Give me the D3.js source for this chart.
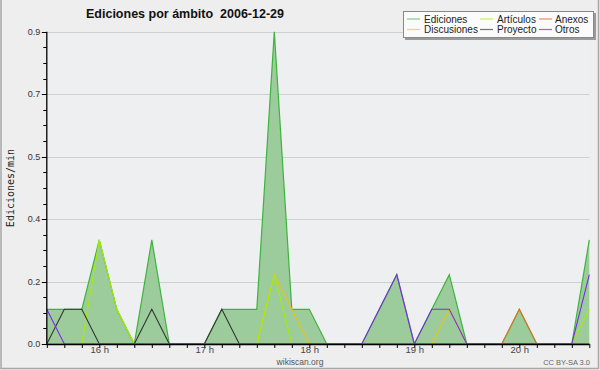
<!DOCTYPE html>
<html><head><meta charset="utf-8">
<script src="https://cdn.jsdelivr.net/npm/d3@7"></script>
<style>
html,body{margin:0;padding:0;background:#eeeeee;}
svg{display:block;}
</style></head>
<body>
<svg id="c" width="600" height="370"></svg>
<script>
const times = ["15:30","15:40","15:50","16:00","16:10","16:20","16:30","16:40","16:50","17:00","17:10","17:20","17:30","17:40","17:50","18:00","18:10","18:20","18:30","18:40","18:50","19:00","19:10","19:20","19:30","19:40","19:50","20:00","20:10","20:20","20:30","20:40"];
const ediciones   = [0.1,0.1,0.1,0.3,0.1,0,0.3,0,0,0,0.1,0.1,0.1,0.9,0.1,0.1,0,0,0,0.1,0.2,0,0.1,0.2,0,0,0,0.1,0,0,0,0.3];
const discusiones = [0,0,0,0,0,0,0,0,0,0,0,0,0,0.2,0.1,0,0,0,0,0,0,0,0,0.1,0,0,0,0,0,0,0,0];
const articulos   = [0,0,0,0.3,0.1,0,0,0,0,0,0,0,0,0.2,0,0,0,0,0,0,0,0,0,0,0,0,0,0,0,0,0,0.1];
const proyecto    = [0,0.1,0.1,0,0,0,0.1,0,0,0,0.1,0,0,0,0,0,0,0,0,0,0,0,0,0,0,0,0,0,0,0,0,0];
const anexos      = [0,0,0,0,0,0,0,0,0,0,0,0,0,0,0,0,0,0,0,0,0,0,0,0,0,0,0,0.1,0,0,0,0];
const otros       = [0.1,0,0,0,0,0,0,0,0,0,0,0,0,0,0,0,0,0,0,0.1,0.2,0,0.1,0.1,0,0,0,0,0,0,0,0.2];
const yMajorTicks = [0,0.18,0.36,0.54,0.72,0.9];
const yTickLabels = ["0.0","0.2","0.4","0.5","0.7","0.9"];
const title = "Ediciones por ámbito\u00a0\u00a02006-12-29";
const yTitle = "Ediciones/min";
const legendNames = ["Ediciones","Discusiones","Artículos","Proyecto","Anexos","Otros"];

const colors = {Ediciones:"#3db43d",Discusiones:"#f2c400",Artículos:"#a8ec00",Proyecto:"#303830",Anexos:"#e8701e",Otros:"#7a2ce8"};
const legendColors = {Ediciones:"#7fd07f",Discusiones:"#f8d850",Artículos:"#c8f060",Proyecto:"#707070",Anexos:"#f09060",Otros:"#9a60f0"};

const svg = d3.select("#c");
const parse = d3.timeParse("%H:%M");
const tdates = times.map(parse);
const L=46.8, R=589.3, T=31.8, B=344;
const x = d3.scaleTime().domain([tdates[0], tdates[tdates.length-1]]).range([L,R]);
const y = d3.scaleLinear().domain([0,0.9]).range([B,T]);

// frame
svg.append("rect").attr("x",0).attr("y",0).attr("width",600).attr("height",370).attr("fill","#eeeeee");
svg.append("path").attr("d","M1,0V368.5H598.5V0").attr("fill","none").attr("stroke","#a8a8a8").attr("stroke-width",1.5);

// plot background
svg.append("rect").attr("x",L).attr("y",T).attr("width",R-L).attr("height",B-T).attr("fill","#eeeff1");

// grid
svg.append("g").selectAll("line").data(yMajorTicks.slice(1)).join("line")
  .attr("x1",L).attr("x2",R).attr("y1",d=>Math.round(y(d))+0.5).attr("y2",d=>Math.round(y(d))+0.5)
  .attr("stroke","#cfcfd2").attr("stroke-width",1);

// area
const ed = tdates.map((t,i)=>({t,v:ediciones[i]}));
svg.append("path").datum(ed)
  .attr("d", d3.area().x(d=>x(d.t)).y0(B).y1(d=>y(d.v)))
  .attr("fill","#9ccb9c");
svg.append("path").datum(ed)
  .attr("d", d3.line().x(d=>x(d.t)).y(d=>y(d.v)))
  .attr("fill","none").attr("stroke",colors.Ediciones).attr("stroke-width",1.2);

const series = [["Discusiones",discusiones],["Artículos",articulos],["Proyecto",proyecto],["Anexos",anexos],["Otros",otros]];
series.forEach(([name,vals])=>{
  svg.append("path").datum(tdates.map((t,i)=>({t,v:vals[i]})))
    .attr("d", d3.line().x(d=>x(d.t)).y(d=>y(d.v)))
    .attr("fill","none").attr("stroke",colors[name]).attr("stroke-width",1.1);
});

// y axis
const yMinor = d3.range(0,0.9001,0.045);
const ya = svg.append("g");
ya.selectAll("line.mn").data(yMinor).join("line").attr("class","mn")
  .attr("x1",L-3.5).attr("x2",L).attr("y1",d=>Math.round(y(d))+0.5).attr("y2",d=>Math.round(y(d))+0.5)
  .attr("stroke","#000");
ya.selectAll("line.mj").data(yMajorTicks).join("line").attr("class","mj")
  .attr("x1",L-5).attr("x2",L).attr("y1",d=>Math.round(y(d))+0.5).attr("y2",d=>Math.round(y(d))+0.5)
  .attr("stroke","#000");
ya.selectAll("text").data(yMajorTicks).join("text")
  .attr("x",L-6.5).attr("y",d=>y(d)+3)
  .attr("text-anchor","end").attr("font-family","Liberation Sans, Arial, sans-serif").attr("font-size","9px").attr("fill","#333")
  .text((d,i)=>yTickLabels[i]);
ya.append("line").attr("x1",L).attr("x2",L).attr("y1",T).attr("y2",B).attr("stroke","#000").attr("stroke-width",1.3);

// x axis
const xa = svg.append("g").attr("transform",`translate(0,${B})`)
  .call(d3.axisBottom(x).ticks(d3.timeMinute.every(10)).tickSize(4).tickPadding(-2)
    .tickFormat(d=> d.getMinutes()===0 ? d3.timeFormat("%-H")(d)+" h" : ""));
xa.select(".domain").attr("stroke","#000").attr("stroke-width",1.6).attr("d",`M${L},0.5H${R}`);
xa.selectAll(".tick line").attr("stroke","#000");
xa.selectAll(".tick text").attr("font-family","Liberation Sans, Arial, sans-serif").attr("font-size","9.5px").attr("fill","#444");

// y title
svg.append("text").attr("transform","translate(13.5,188) rotate(-90)")
  .attr("text-anchor","middle").attr("font-family","DejaVu Sans Mono, monospace").attr("font-size","10px").attr("fill","#222")
  .text(yTitle);

// title
svg.append("text").attr("x",86).attr("y",18).attr("font-family","Liberation Sans, Arial, sans-serif")
  .attr("font-weight","bold").attr("font-size","12.5px").attr("fill","#111").text(title);

// credits
svg.append("text").attr("x",300).attr("y",365).attr("text-anchor","middle").attr("font-family","Liberation Sans, Arial, sans-serif")
  .attr("font-size","8.5px").attr("fill","#555").text("wikiscan.org");
svg.append("text").attr("x",590).attr("y",365).attr("text-anchor","end").attr("font-family","Liberation Sans, Arial, sans-serif")
  .attr("font-size","7.5px").attr("fill","#666").text("CC BY-SA 3.0");

// legend
const lg = svg.append("g");
lg.append("rect").attr("x",405).attr("y",13).attr("width",191).attr("height",27).attr("fill","#9a9a9a");
lg.append("rect").attr("x",403.5).attr("y",11.5).attr("width",190).attr("height",26).attr("fill","#fbfbfb").attr("stroke","#888");
const colX = [407,480,539], textX=[424,497,555], rowY=[19,29.5];
legendNames.forEach((n,i)=>{
  const c = Math.floor(i/2), r = i%2;
  lg.append("line").attr("x1",colX[c]).attr("x2",colX[c]+13).attr("y1",rowY[r]).attr("y2",rowY[r])
    .attr("stroke",legendColors[n]).attr("stroke-width",1.2);
  lg.append("text").attr("x",textX[c]).attr("y",rowY[r]+3.5).attr("font-family","Liberation Sans, Arial, sans-serif")
    .attr("font-size","10px").attr("fill","#222").text(n);
});
</script>
</body></html>
